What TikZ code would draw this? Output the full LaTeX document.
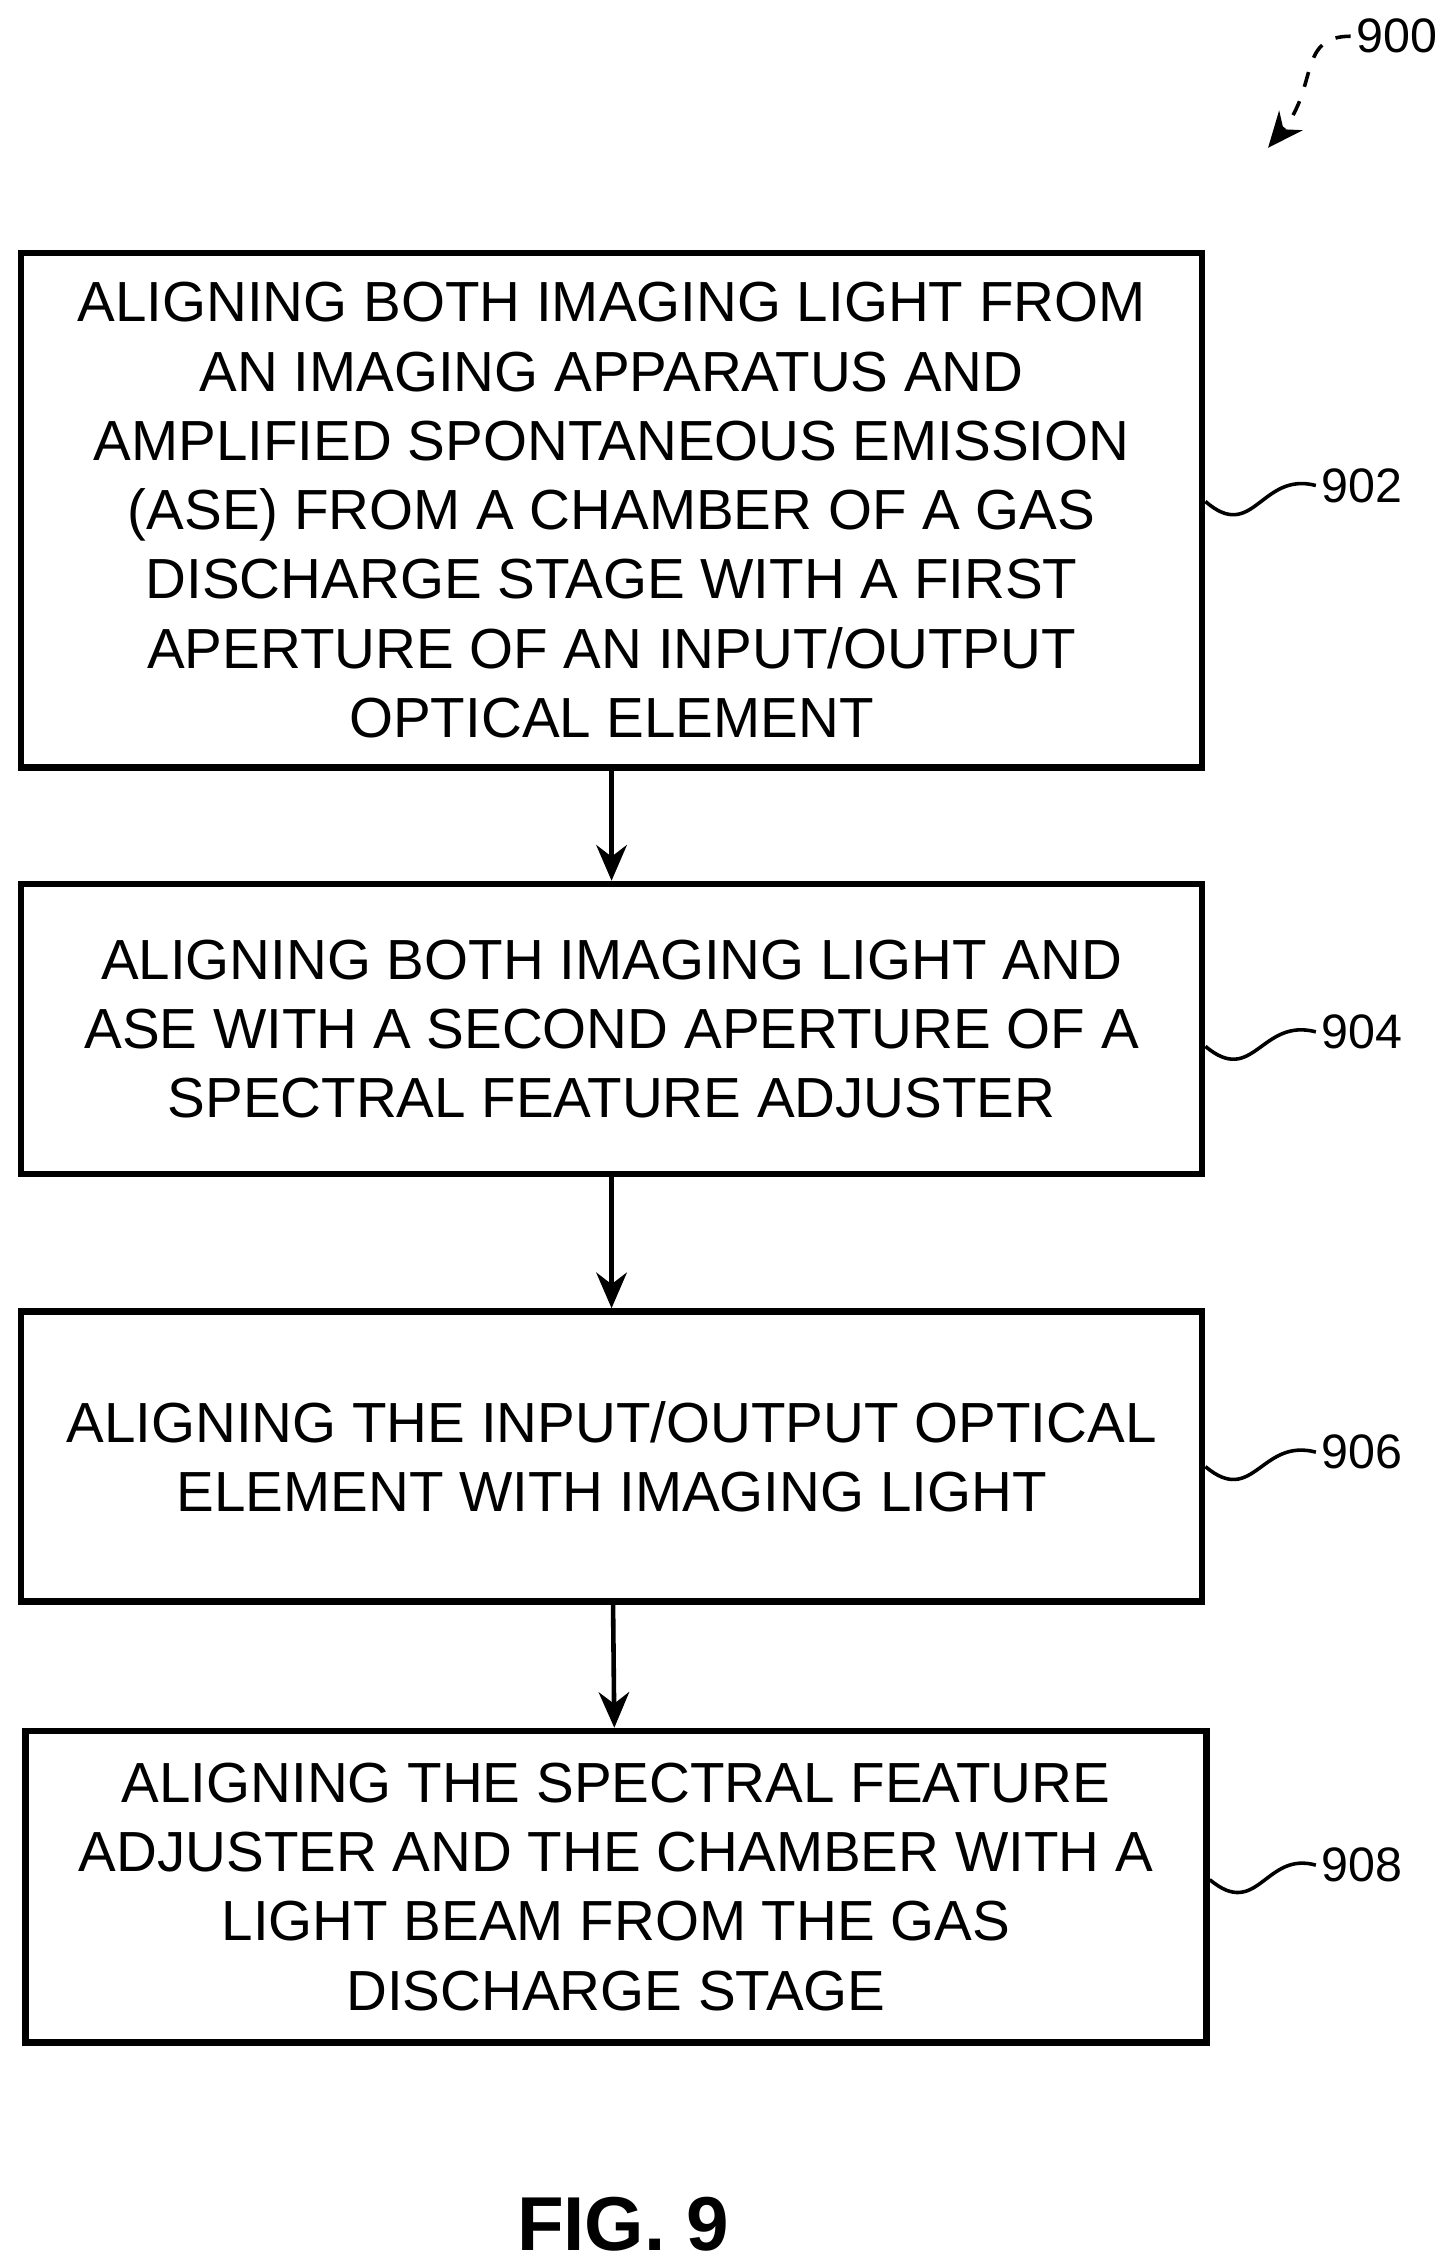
\documentclass[tikz,border=0pt]{standalone}
\usepackage{fontspec}
\setmainfont{Liberation Sans}
\usetikzlibrary{positioning,arrows.meta}

\begin{document}
\begin{tikzpicture}[%
        x=0.1mm,
        y=-0.1mm,
        >={Stealth[length=7pt,width=6pt]},
        stepbox/.style={draw, line width=1.3pt, minimum width=81.5mm, align=center,
            font=\fontsize{11.1}{13.6}\selectfont},
        reflabel/.style={font=\fontsize{9.5}{11}\selectfont, inner sep=1pt}
        ]
        \useasboundingbox (0,0) rectangle (1000,1565);

        \node[stepbox, minimum height=35.5mm] (902) at (422,352) {ALIGNING BOTH IMAGING LIGHT FROM\\AN IMAGING APPARATUS AND\\AMPLIFIED SPONTANEOUS EMISSION\\(ASE) FROM A CHAMBER OF A GAS\\DISCHARGE STAGE WITH A FIRST\\APERTURE OF AN INPUT/OUTPUT\\OPTICAL ELEMENT};
        \node[stepbox, minimum height=20mm] (904) at (422,710) {ALIGNING BOTH IMAGING LIGHT AND\\ASE WITH A SECOND APERTURE OF A\\SPECTRAL FEATURE ADJUSTER};
        \node[stepbox, minimum height=20mm] (906) at (422,1005) {ALIGNING THE INPUT/OUTPUT OPTICAL\\ELEMENT WITH IMAGING LIGHT};
        \node[stepbox, minimum height=21.5mm] (908) at (425,1302) {ALIGNING THE SPECTRAL FEATURE\\ADJUSTER AND THE CHAMBER WITH A\\LIGHT BEAM FROM THE GAS\\DISCHARGE STAGE};

        \path[->, line width=0.9pt] (902) edge (904);
        \path[->, line width=0.9pt] (904) edge (906);
        \path[->, line width=0.9pt] (906) edge (908);

        % reference labels
        \node[reflabel, anchor=west] (l902) at (908,335) {902};
        \node[reflabel, anchor=west] (l904) at (908,712) {904};
        \node[reflabel, anchor=west] (l906) at (908,1002) {906};
        \node[reflabel, anchor=west] (l908) at (908,1287) {908};
        \node[reflabel, anchor=west] (l900) at (932,25) {900};
        \coordinate (tip900) at (875,102);

        \draw[line width=0.7pt] (902.east |- 0,346) .. controls (865,375) and (870,325) .. (l902.west);
        \draw[line width=0.7pt] (904.east |- 0,722) .. controls (865,750) and (870,702) .. (l904.west);
        \draw[line width=0.7pt] (906.east |- 0,1012) .. controls (865,1040) and (870,992) .. (l906.west);
        \draw[line width=0.7pt] (908.east |- 0,1297) .. controls (868,1325) and (873,1277) .. (l908.west);
        \draw[->, line width=0.7pt, dashed] (l900.west) .. controls (895,25) and (910,60) .. (tip900);

        \node[font=\bfseries\fontsize{15}{18}\selectfont] (fig) at (430,1535) {FIG. 9};
    \end{tikzpicture}
\end{document}
